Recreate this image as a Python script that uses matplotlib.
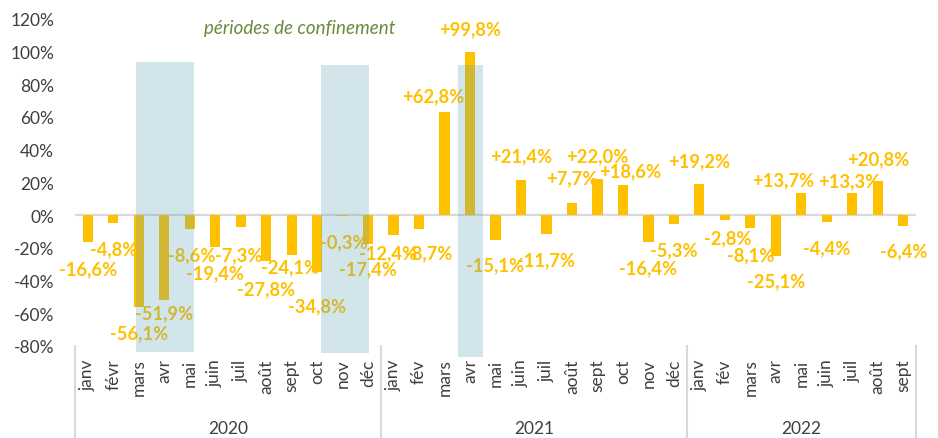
import matplotlib
matplotlib.use('Agg')
import matplotlib.pyplot as plt
import matplotlib.transforms as mtransforms
import numpy as np

plt.rcParams['font.family'] = ['Lato', 'DejaVu Sans']

# data
months = ['janv', 'févr', 'mars', 'avr', 'mai', 'juin', 'juil', 'août', 'sept', 'oct', 'nov', 'déc',
          'janv', 'fév', 'mars', 'avr', 'mai', 'juin', 'juil', 'août', 'sept', 'oct', 'nov', 'déc',
          'janv', 'fév', 'mars', 'avr', 'mai', 'juin', 'juil', 'août', 'sept']
years = ['2020', '2021', '2022']
months_per_year = [12, 12, 9]
values = [-16.6, -4.8, -56.1, -51.9, -8.6, -19.4, -7.3, -27.8, -24.1, -34.8, -0.3, -17.4,
          -12.4, -8.7, 62.8, 99.8, -15.1, 21.4, -11.7, 7.7, 22.0, 18.6, -16.4, -5.3,
          19.2, -2.8, -8.1, -25.1, 13.7, -4.4, 13.3, 20.8, -6.4]
# lockdown periods (start, end in month index)
confinements = [(1.9, 4.17), (9.15, 11.03), (14.52, 15.5)]

# label placement (x shift in months, y in %)
label_dx = [0, 0, 0, 0, 0.1, 0, -0.09, 0, -0.07, 0, 0.05, 0,
            -0.23, 0.36, -0.46, 0, 0, 0, 0, 0, 0, 0.3, 0, 0,
            0, 0.1, 0, 0, -0.72, 0, -0.13, 0, 0]
label_y = [-33.0, -20.5, -72.2, -59.9, -24.2, -35.2, -24.2, -45.3, -31.8, -55.7, -16.5, -32.7,
           -22.9, -22.9, 72.8, 113.8, -30.6, 36.1, -27.5, 22.6, 36.1, 26.9, -32.4, -21.4,
           33.0, -14.1, -24.5, -40.4, 21.6, -20.2, 21.1, 34.2, -22.0]
conf_tops = [93.6, 91.7, 91.7]
conf_bottoms = [-83.8, -84.4, -86.8]

yellow = '#FFC000'
grey_txt = '#3F3F3F'
line_grey = '#D9D9D9'

fig = plt.figure(figsize=(9.38, 4.39), dpi=100)
ax = fig.add_axes([75 / 938, 1 - 347 / 439, (916 - 75) / 938, (347 - 19.8) / 439])

x = np.arange(len(values))
ax.bar(x, values, width=0.4, color=yellow, zorder=2)
ax.axhline(0, color=line_grey, lw=1.6, zorder=1)

for i, v in enumerate(values):
    txt = ('+' if v > 0 else '') + f'{v:.1f}'.replace('.', ',') + '%'
    ax.text(i + label_dx[i], label_y[i], txt, ha='center', va='center', color=yellow,
            fontsize=13.2, fontweight='bold', zorder=3)

# lockdown shading on top
for (s, e), top, bot in zip(confinements, conf_tops, conf_bottoms):
    ax.add_patch(plt.Rectangle((s, bot), e - s, top - bot, facecolor=(95 / 255, 165 / 255, 183 / 255),
                               alpha=0.28, edgecolor='none', zorder=4, clip_on=False))

ax.text(8.32, 114.4, 'périodes de confinement', ha='center', va='center', color='#6A8A3A',
        fontsize=13.5, fontstyle='italic')

ax.set_xlim(-0.5, len(values) - 0.5)
ax.set_ylim(-80, 120)
ax.set_yticks(np.arange(-80, 121, 20))
ax.set_yticklabels([f'{t}%' for t in range(-80, 121, 20)])
ax.set_xticks(x)
ax.set_xticklabels(months, rotation=90)
ax.tick_params(axis='x', length=0, pad=9, labelsize=12.5, labelcolor=grey_txt)
ax.tick_params(axis='y', length=0, pad=15, labelsize=12.5, labelcolor=grey_txt)
for sp in ax.spines.values():
    sp.set_visible(False)

# year groups
trans = mtransforms.blended_transform_factory(ax.transData, ax.transAxes)
bounds = np.concatenate([[0], np.cumsum(months_per_year)]) - 0.5
for b in bounds:
    ax.plot([b, b], [0, -0.29], transform=trans, color=line_grey, lw=1.5, clip_on=False)
for yr, a, b in zip(years, bounds[:-1], bounds[1:]):
    ax.text((a + b) / 2, -0.251, yr, transform=trans, ha='center', va='center',
            fontsize=12.5, color=grey_txt)

fig.savefig('out.png', dpi=100)
